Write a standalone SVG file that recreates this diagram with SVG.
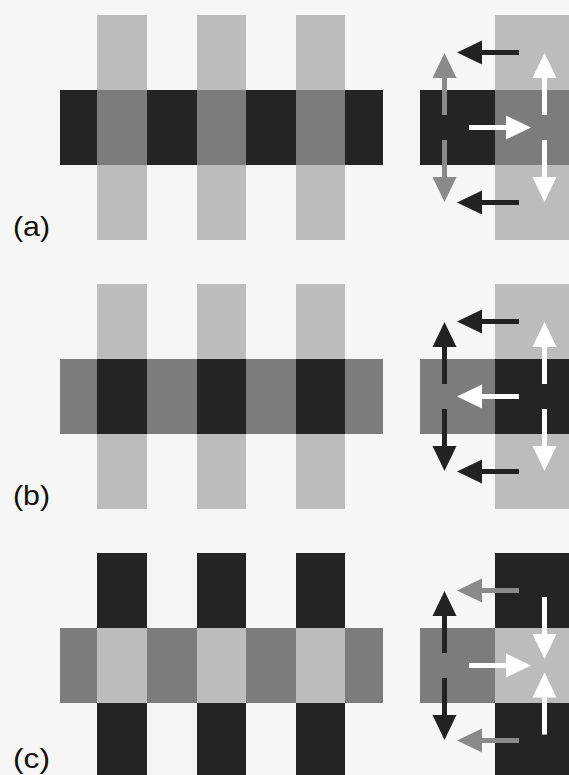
<svg xmlns="http://www.w3.org/2000/svg" xmlns:xlink="http://www.w3.org/1999/xlink" width="569" height="775" viewBox="0 0 569 775">
<style>
.dk{fill:#242424}.md{fill:#7c7c7c}.lt{fill:#bcbcbc}
.label{font-family:"Liberation Sans",Arial,sans-serif;font-size:28px;fill:#111}
.ab{fill:#222}.ag{fill:#8a8a8a}.aw{fill:#ffffff}
</style>
<defs>
<!-- arrow of length 62 pointing left, tip at origin -->
<g id="arr">
<polygon points="0,0 25,-12 25,12"/>
<rect x="22" y="-2.5" width="40" height="5"/>
</g>
</defs>
<rect width="569" height="775" fill="#f6f6f6"/>

<g id="panel-a">
<rect class="lt" x="97" y="15" width="50" height="225"/>
<rect class="lt" x="197" y="15" width="49" height="225"/>
<rect class="lt" x="296" y="15" width="49" height="225"/>
<rect class="dk" x="60" y="90" width="323" height="75"/>
<rect class="md" x="97" y="90" width="50" height="75"/>
<rect class="md" x="197" y="90" width="49" height="75"/>
<rect class="md" x="296" y="90" width="49" height="75"/>
<rect class="lt" x="495" y="15" width="74" height="225"/>
<rect class="dk" x="420" y="90" width="75" height="75"/>
<rect class="md" x="495" y="90" width="74" height="75"/>
<text class="label" x="13" y="236" textLength="37" lengthAdjust="spacingAndGlyphs">(a)</text>
</g>

<g id="panel-b">
<rect class="lt" x="97" y="284" width="50" height="225"/>
<rect class="lt" x="197" y="284" width="49" height="225"/>
<rect class="lt" x="296" y="284" width="49" height="225"/>
<rect class="md" x="60" y="359" width="323" height="75"/>
<rect class="dk" x="97" y="359" width="50" height="75"/>
<rect class="dk" x="197" y="359" width="49" height="75"/>
<rect class="dk" x="296" y="359" width="49" height="75"/>
<rect class="lt" x="495" y="284" width="74" height="225"/>
<rect class="md" x="420" y="359" width="75" height="75"/>
<rect class="dk" x="495" y="359" width="74" height="75"/>
<text class="label" x="13" y="505" textLength="37" lengthAdjust="spacingAndGlyphs">(b)</text>
</g>

<g id="panel-c">
<rect class="dk" x="97" y="553" width="50" height="225"/>
<rect class="dk" x="197" y="553" width="49" height="225"/>
<rect class="dk" x="296" y="553" width="49" height="225"/>
<rect class="md" x="60" y="628" width="323" height="75"/>
<rect class="lt" x="97" y="628" width="50" height="75"/>
<rect class="lt" x="197" y="628" width="49" height="75"/>
<rect class="lt" x="296" y="628" width="49" height="75"/>
<rect class="dk" x="495" y="553" width="74" height="225"/>
<rect class="md" x="420" y="628" width="75" height="75"/>
<rect class="lt" x="495" y="628" width="74" height="75"/>
<text class="label" x="13" y="768" textLength="37" lengthAdjust="spacingAndGlyphs">(c)</text>
</g>

<g id="connectors">
<!-- panel a -->
<use xlink:href="#arr" class="ab" transform="translate(457,52.5)"/>
<use xlink:href="#arr" class="ab" transform="translate(457,202.5)"/>
<use xlink:href="#arr" class="ag" transform="translate(444.5,53) rotate(90)"/>
<use xlink:href="#arr" class="ag" transform="translate(444.5,202) rotate(-90)"/>
<use xlink:href="#arr" class="aw" transform="translate(544.5,53) rotate(90)"/>
<use xlink:href="#arr" class="aw" transform="translate(544.5,202) rotate(-90)"/>
<use xlink:href="#arr" class="aw" transform="translate(531,127.5) rotate(180)"/>
<!-- panel b -->
<use xlink:href="#arr" class="ab" transform="translate(457,321.5)"/>
<use xlink:href="#arr" class="ab" transform="translate(457,471.5)"/>
<use xlink:href="#arr" class="ab" transform="translate(444.5,322) rotate(90)"/>
<use xlink:href="#arr" class="ab" transform="translate(444.5,471) rotate(-90)"/>
<use xlink:href="#arr" class="aw" transform="translate(544.5,322) rotate(90)"/>
<use xlink:href="#arr" class="aw" transform="translate(544.5,471) rotate(-90)"/>
<use xlink:href="#arr" class="aw" transform="translate(457,396.5)"/>
<!-- panel c -->
<use xlink:href="#arr" class="ag" transform="translate(457,590.5)"/>
<use xlink:href="#arr" class="ag" transform="translate(457,740.5)"/>
<use xlink:href="#arr" class="ab" transform="translate(444.5,591) rotate(90)"/>
<use xlink:href="#arr" class="ab" transform="translate(444.5,740) rotate(-90)"/>
<use xlink:href="#arr" class="aw" transform="translate(531,665.5) rotate(180)"/>
<use xlink:href="#arr" class="aw" transform="translate(544.5,659) rotate(-90)"/>
<use xlink:href="#arr" class="aw" transform="translate(544.5,672.5) rotate(90)"/>
</g>
</svg>
